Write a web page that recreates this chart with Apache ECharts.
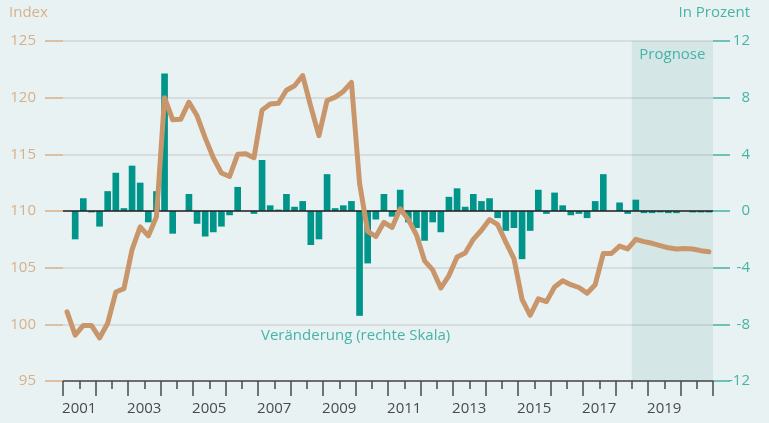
<!DOCTYPE html>
<html>
<head>
<meta charset="utf-8">
<script src="https://cdn.jsdelivr.net/npm/echarts@6/dist/echarts.min.js"></script>
<style>
html,body{margin:0;padding:0;background:#e9f2f3;}
#c{width:769px;height:423px;}
</style>
</head>
<body>
<div id="c"></div>
<script>
// Quarterly categories 2001Q1 .. 2020Q4
const years = [];
for (let y = 2001; y <= 2020; y++) years.push(y);
const quarters = [];
years.forEach(y => { for (let q = 1; q <= 4; q++) quarters.push(y + 'Q' + q); });

// Index (left scale)
const indexValues = [
  101.1, 99.05, 99.9, 99.9, 98.8, 100.1, 102.85, 103.15,
  106.6, 108.6, 107.8, 109.5, 120.0, 118.05, 118.1, 119.6,
  118.4, 116.45, 114.7, 113.35, 113.05, 115.0, 115.05, 114.7,
  118.9, 119.45, 119.5, 120.65, 121.05, 121.95, 119.2, 116.65,
  119.75, 120.05, 120.55, 121.35, 112.45, 108.2, 107.75, 109.0,
  108.55, 110.2, 109.25, 107.9, 105.6, 104.8, 103.2, 104.3,
  105.95, 106.3, 107.5, 108.3, 109.25, 108.8, 107.25, 105.8,
  102.2, 100.8, 102.25, 102.0, 103.3, 103.85, 103.5, 103.25,
  102.75, 103.5, 106.25, 106.25, 106.9, 106.65, 107.5, 107.3,
  107.15, 106.95, 106.75, 106.65, 106.7, 106.65, 106.5, 106.4
];

// Veränderung in Prozent (right scale)
const changeValues = [
  null, -2.0, 0.9, -0.1, -1.1, 1.4, 2.7, 0.2,
  3.2, 2.0, -0.8, 1.4, 9.7, -1.6, 0, 1.2,
  -0.9, -1.8, -1.5, -1.1, -0.3, 1.7, 0, -0.2,
  3.6, 0.4, 0.1, 1.2, 0.3, 0.7, -2.4, -2.0,
  2.6, 0.2, 0.4, 0.7, -7.4, -3.7, -0.6, 1.2,
  -0.4, 1.5, -0.8, -1.2, -2.1, -0.8, -1.5, 1.0,
  1.6, 0.3, 1.2, 0.7, 0.9, -0.5, -1.4, -1.2,
  -3.4, -1.4, 1.5, -0.2, 1.3, 0.4, -0.3, -0.2,
  -0.5, 0.7, 2.6, 0, 0.6, -0.2, 0.8, -0.15,
  -0.15, -0.1, -0.15, -0.15, 0, -0.1, -0.1, -0.1
];

// Forecast period in half-years from 2001 (2018 H2 .. 2020 H2 end)
const forecastStart = 35;
const forecastEnd = 40;

const leftTicks = { min: 95, max: 125, interval: 5 };
const rightTicks = { min: -12, max: 12, interval: 4 };

const FONT = "'Open Sans', 'Noto Sans', sans-serif";
const TAN = '#c8966a';
const TAN_LABEL = '#d6b08a';
const TEAL = '#00958a';
const TEAL_LABEL = '#45b3a7';

const chart = echarts.init(document.getElementById('c'), null, { renderer: 'canvas' });
chart.setOption({
  backgroundColor: '#e9f2f3',
  animation: false,
  textStyle: { fontFamily: FONT },
  grid: { left: 63, right: 56, top: 41, bottom: 42, containLabel: false },
  xAxis: [
    {
      type: 'category', data: quarters, position: 'bottom', boundaryGap: true,
      axisLine: { show: true, onZero: false, lineStyle: { color: '#4a4a4a', width: 1.5 } },
      axisTick: { show: true, interval: 3, length: 15, lineStyle: { color: '#4a4a4a', width: 1.5 } },
      axisLabel: { show: false },
      splitLine: { show: false }
    },
    {
      type: 'value', min: 0, max: 40, interval: 1, position: 'bottom',
      axisLine: { show: false, onZero: false },
      axisTick: { show: true, length: 8, lineStyle: { color: '#4a4a4a', width: 1.5 } },
      axisLabel: {
        show: true, margin: 20, fontSize: 15, color: '#4a4a4a', fontFamily: FONT,
        formatter: v => (v % 4 === 1 ? String(2001 + (v - 1) / 2) : '')
      },
      splitLine: { show: false }
    }
  ],
  yAxis: [
    {
      type: 'value', position: 'left', min: leftTicks.min, max: leftTicks.max, interval: leftTicks.interval,
      axisLine: { show: false, onZero: false },
      axisTick: { show: true, length: 18, lineStyle: { color: TAN_LABEL, width: 1.5 } },
      axisLabel: { margin: 27, fontSize: 15, color: TAN_LABEL, fontFamily: FONT },
      splitLine: { show: true, lineStyle: { color: '#d0d5d7', width: 1.5 } }
    },
    {
      type: 'value', position: 'right', min: rightTicks.min, max: rightTicks.max, interval: rightTicks.interval,
      axisLine: { show: false, onZero: false },
      axisTick: { show: true, length: 17, lineStyle: { color: TEAL_LABEL, width: 1.5 } },
      axisLabel: { margin: 37, align: 'right', fontSize: 15, color: TEAL_LABEL, fontFamily: FONT },
      splitLine: { show: false }
    }
  ],
  graphic: [
    { type: 'text', left: 9, top: 5, style: { text: 'Index', fill: TAN_LABEL, font: '15px ' + FONT } },
    { type: 'text', right: 19, top: 5, style: { text: 'In Prozent', fill: TEAL_LABEL, font: '15px ' + FONT } },
    { type: 'text', left: 261, top: 328, style: { text: 'Veränderung (rechte Skala)', fill: TEAL_LABEL, font: '15px ' + FONT } }
  ],
  series: [
    {
      name: 'forecast', type: 'line', xAxisIndex: 1, yAxisIndex: 0, data: [],
      silent: true,
      markArea: {
        silent: true,
        itemStyle: { color: 'rgba(0,100,100,0.082)' },
        label: { show: true, position: 'insideTop', distance: 6, color: TEAL_LABEL, fontSize: 15, fontFamily: FONT },
        data: [[{ name: 'Prognose', xAxis: forecastStart }, { xAxis: forecastEnd }]]
      }
    },
    {
      name: 'Veränderung', type: 'bar', xAxisIndex: 0, yAxisIndex: 1,
      data: changeValues, barWidth: '82%',
      itemStyle: { color: TEAL },
      markLine: {
        silent: true, symbol: 'none', label: { show: false },
        lineStyle: { color: '#222', width: 1.5, type: 'solid' },
        data: [{ yAxis: 0 }]
      }
    },
    {
      name: 'Index', type: 'line', xAxisIndex: 0, yAxisIndex: 0,
      data: indexValues, showSymbol: false, symbol: 'none', smooth: false,
      lineStyle: { color: TAN, width: 5, join: 'round', cap: 'round' },
      z: 5
    }
  ]
});
</script>
</body>
</html>
